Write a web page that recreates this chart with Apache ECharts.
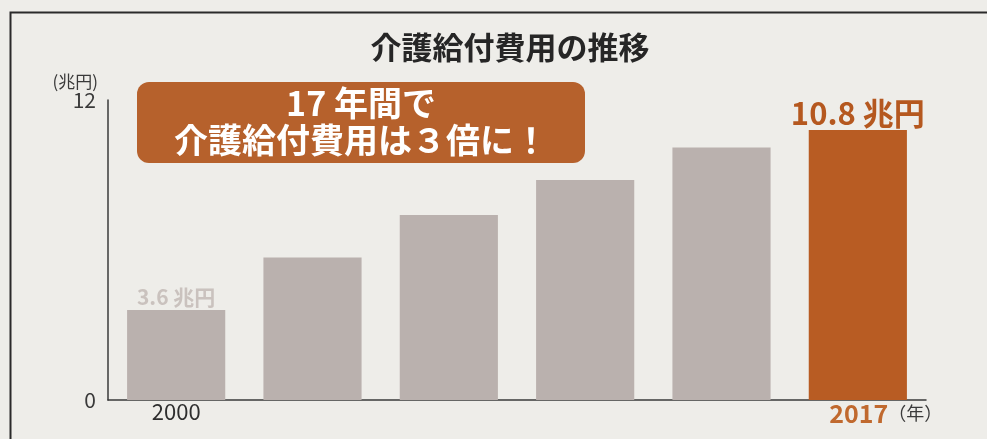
<!DOCTYPE html>
<html>
<head>
<meta charset="utf-8">
<script src="https://cdn.jsdelivr.net/npm/echarts@6/dist/echarts.min.js"></script>
<style>
html,body{margin:0;padding:0;background:#eeede9;}
#chart{width:987px;height:439px;}
</style>
</head>
<body>
<div id="chart"></div>
<script>
// ---- data ----
const titleText = '介護給付費用の推移';
const categories = ['2000', '', '', '', '', '2017'];
const values = [3.6, 5.7, 7.4, 8.8, 10.1, 10.8];
const yTicks = [0, 12];
const unitLabel = '(兆円)';
const yearUnit = '（年）';
const valueUnit = ' 兆円';
const calloutLines = ['17 年間で', '介護給付費用は３倍に！'];

const GRAY = '#bab1ae';
const ORANGE = '#b85c23';
const FONT = '"Noto Sans CJK JP", "Noto Sans", sans-serif';
const lastIdx = values.length - 1;

const barData = values.map((v, i) => {
  const item = { value: v, itemStyle: { color: i === lastIdx ? ORANGE : GRAY } };
  if (i === 0) {
    item.label = { show: true, position: 'top', distance: 2, color: '#cac2be', fontSize: 21, fontWeight: 'bold',
      fontFamily: FONT, formatter: p => p.value + valueUnit };
  } else if (i === lastIdx) {
    item.label = { show: true, position: 'top', distance: 1, color: '#b5581f', fontSize: 31, fontWeight: 'bold',
      fontFamily: FONT, formatter: p => p.value + valueUnit };
  }
  return item;
});

const chart = echarts.init(document.getElementById('chart'));
chart.setOption({
  backgroundColor: '#eeede9',
  animation: false,
  title: {
    text: titleText,
    left: 505, top: 27, textAlign: 'center',
    textStyle: { fontFamily: FONT, fontSize: 31, fontWeight: 'bold', color: '#262626' }
  },
  grid: { left: 108, right: 61, top: 100, bottom: 39 },
  xAxis: {
    type: 'category',
    data: categories,
    axisLine: { show: true, lineStyle: { color: '#3a3a3a', width: 1.5 } },
    axisTick: { show: false },
    axisLabel: {
      interval: 0, margin: 1, fontFamily: FONT,
      formatter: (val, idx) => idx === lastIdx ? '{y|' + val + '}{u|' + yearUnit + '}' : val,
      fontSize: 22, color: '#2e2e2e',
      rich: {
        y: { fontSize: 25, fontWeight: 'bold', color: '#c0692e', fontFamily: FONT, padding: [0, 0, 0, 56] },
        u: { fontSize: 18, color: '#3a3a3a', fontFamily: FONT }
      }
    }
  },
  yAxis: {
    type: 'value', min: yTicks[0], max: yTicks[1], interval: 12,
    name: unitLabel, nameLocation: 'end', nameGap: 9,
    nameTextStyle: { fontFamily: FONT, fontSize: 17, color: '#3a3a3a', align: 'right', padding: [0, 10, 0, 0] },
    axisLine: { show: true, lineStyle: { color: '#3a3a3a', width: 1.5 } },
    axisTick: { show: false },
    splitLine: { show: false },
    axisLabel: { fontFamily: FONT, fontSize: 21, color: '#3a3a3a', margin: 12 }
  },
  series: [{
    type: 'bar',
    data: barData,
    barWidth: '72%',
    z: 3
  }],
  graphic: [
    {
      type: 'rect', left: 8, top: 10, z: 0,
      shape: { width: 1000, height: 500 },
      style: { fill: null, stroke: '#2a2a2a', lineWidth: 2 }
    },
    {
      type: 'rect', left: 137, top: 82, z: 10,
      shape: { width: 448, height: 81, r: 12 },
      style: { fill: '#b6612c' }
    },
    {
      type: 'text', x: 361, y: 122, z: 11,
      style: {
        text: calloutLines.join('\n'),
        align: 'center', verticalAlign: 'middle',
        fill: '#ffffff', fontSize: 34, fontWeight: 'bold', fontFamily: FONT, lineHeight: 37
      }
    }
  ]
});
</script>
</body>
</html>
